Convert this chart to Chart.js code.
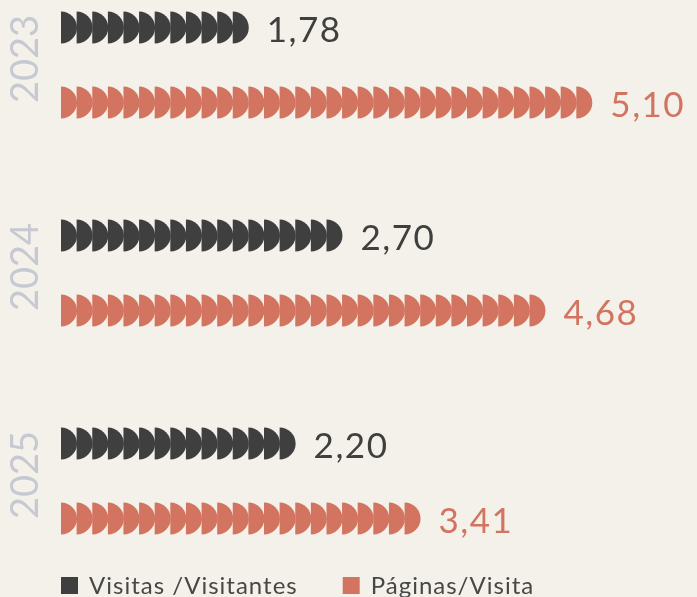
<!DOCTYPE html>
<html lang="pt">
<head>
<meta charset="utf-8">
<script src="https://cdn.jsdelivr.net/npm/chart.js@4/dist/chart.umd.min.js"></script>
<style>
    html, body { margin: 0; padding: 0; background: #f4f1ea; }
    #wrap { width: 697px; height: 597px; position: relative; }
</style>
</head>
<body>
<div id="wrap"><canvas id="chart"></canvas></div>
<script>
// dados do gráfico
const years = ['2023', '2024', '2025'];
const visitasPorVisitante = [1.78, 2.70, 2.20];
const paginasPorVisita = [5.10, 4.68, 3.41];
const seriesNames = ['Visitas /Visitantes', 'Páginas/Visita'];
const seriesColors = ['#3f3f3f', '#d37460'];

const FONT = 'Lato, "Open Sans", sans-serif';

// desenha as barras como fileiras de meios-círculos, os rótulos e a legenda
const pictorialPlugin = {
    id: 'pictorial',
    beforeDatasetsDraw() {
        return false; // as barras normais não são desenhadas
    },
    afterDraw(chart) {
        const ctx = chart.ctx;
        const yScale = chart.scales.y;

        // anos na vertical, à esquerda
        ctx.save();
        ctx.fillStyle = '#c6c9d1';
        ctx.font = '38px ' + FONT;
        ctx.textAlign = 'center';
        ctx.textBaseline = 'alphabetic';
        years.forEach((year, i) => {
            const y = yScale.getPixelForValue(i) - 6;
            ctx.save();
            ctx.translate(38, y);
            ctx.rotate(-Math.PI / 2);
            ctx.fillText(year, 0, 0);
            ctx.restore();
        });
        ctx.restore();

        // barras: um meio-círculo a cada "step" pixels do comprimento da barra
        chart.data.datasets.forEach((ds, di) => {
            const meta = chart.getDatasetMeta(di);
            meta.data.forEach((el, i) => {
                const r = el.height / 2;
                const step = r * 0.976;
                const len = el.x - el.base;
                const n = Math.max(1, Math.round(len / step));
                ctx.save();
                ctx.fillStyle = ds.backgroundColor;
                let end = el.base;
                for (let k = 0; k < n; k++) {
                    const cx = el.base + k * step;
                    ctx.beginPath();
                    ctx.moveTo(cx, el.y - r);
                    ctx.arc(cx, el.y, r, -Math.PI / 2, Math.PI / 2);
                    ctx.closePath();
                    ctx.fill();
                    end = cx + r;
                }
                // valor
                ctx.font = '35px ' + FONT;
                ctx.letterSpacing = '1.5px';
                ctx.textAlign = 'left';
                ctx.textBaseline = 'alphabetic';
                const txt = ds.data[i].toFixed(2).replace('.', ',');
                ctx.fillText(txt, end + 18, el.y + 14.5);
                ctx.restore();
            });
        });

        // legenda
        ctx.save();
        ctx.font = '24px ' + FONT;
        ctx.letterSpacing = '1px';
        ctx.textBaseline = 'alphabetic';
        ctx.textAlign = 'left';
        let x = 61;
        chart.data.datasets.forEach(ds => {
            ctx.fillStyle = ds.backgroundColor;
            ctx.fillRect(x, 577, 17, 17);
            ctx.fillStyle = '#474747';
            ctx.fillText(ds.label, x + 28, 594);
            x += 28 + ctx.measureText(ds.label).width + 45;
        });
        ctx.restore();
    }
};

const ctx = document.getElementById('chart').getContext('2d');
new Chart(ctx, {
    type: 'bar',
    data: {
        labels: years,
        datasets: [
            {
                label: seriesNames[0],
                data: visitasPorVisitante,
                backgroundColor: seriesColors[0]
            },
            {
                label: seriesNames[1],
                data: paginasPorVisita,
                backgroundColor: seriesColors[1]
            }
        ]
    },
    options: {
        indexAxis: 'y',
        responsive: true,
        maintainAspectRatio: false,
        animation: false,
        categoryPercentage: 0.72,
        barPercentage: 0.43,
        maxBarThickness: 32,
        layout: {
            padding: { top: 65, bottom: 116, left: 61, right: 9 }
        },
        scales: {
            x: { display: false, min: 0, max: 6 },
            y: { display: false, offset: false }
        },
        plugins: {
            legend: { display: false },
            tooltip: { enabled: false }
        }
    },
    plugins: [pictorialPlugin]
});
</script>
</body>
</html>
